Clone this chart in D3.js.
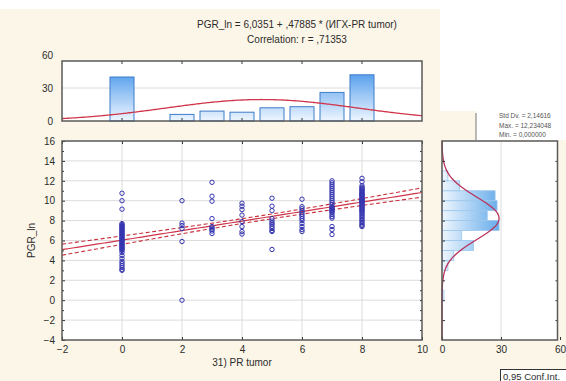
<!DOCTYPE html>
<html>
<head>
<meta charset="utf-8">
<script src="https://cdn.jsdelivr.net/npm/d3@7"></script>
<style>
  html, body { margin: 0; padding: 0; background: #fff; }
  svg { display: block; font-family: "Liberation Sans", Arial, sans-serif; }
</style>
</head>
<body>
<div id="chart"></div>
<script>
// PR tumor scores (x) and PGR_ln values, column by column
const prScores = [0, 2, 3, 4, 5, 6, 7, 8];
const pgrAt0 = [10.75, 10.0, 9.15, 7.7, 7.6, 7.5, 7.4, 7.3, 7.2, 7.1, 7.0, 6.9, 6.8, 6.7, 6.6, 6.5, 6.4,
  6.3, 6.2, 6.1, 6.0, 5.9, 5.8, 5.7, 5.6, 5.5, 5.4, 5.3, 5.2, 5.0, 4.8, 4.5, 4.2, 3.9, 3.7, 3.5, 3.3, 3.1, 3.0, 5.1];
const pgrAt2 = [10.0, 7.75, 7.5, 7.2, 5.9, 0.0];
const pgrAt3 = [11.85, 10.45, 9.95, 8.2, 7.4, 7.25, 7.1, 6.95, 6.7];
const pgrAt4 = [9.75, 9.45, 9.1, 8.55, 7.9, 7.4, 6.9, 6.65];
const pgrAt5 = [10.25, 9.45, 9.0, 8.2, 7.95, 7.75, 7.6, 7.4, 7.2, 7.0, 6.9, 5.1];
const pgrAt6 = [10.15, 9.4, 9.2, 9.0, 8.8, 8.6, 8.4, 8.2, 8.0, 7.7, 7.4, 7.1, 6.9];
const pgrAt7 = [12.0, 11.8, 11.6, 11.4, 11.2, 11.0, 10.8, 10.6, 10.4, 10.2, 10.0, 9.8, 9.6, 9.4, 9.3,
  9.2, 9.1, 9.0, 8.9, 8.8, 8.6, 8.4, 8.25, 7.4, 7.1, 6.6];
const pgrAt8 = [12.25, 11.9, 11.5, 11.35, 11.25, 11.15, 11.05, 10.95, 10.85, 10.75, 10.65, 10.55, 10.45,
  10.35, 10.25, 10.15, 10.05, 9.95, 9.85, 9.75, 9.65, 9.55, 9.45, 9.35, 9.25, 9.15, 9.05, 8.95, 8.85,
  8.7, 8.55, 8.4, 8.25, 8.1, 7.95, 7.8, 7.65, 7.5, 7.4, 9.9, 10.1, 10.6];
const pgrColumns = [pgrAt0, pgrAt2, pgrAt3, pgrAt4, pgrAt5, pgrAt6, pgrAt7, pgrAt8];

// marginal histogram of PR tumor (top)
const prCounts = [40, 6, 9, 8, 12, 13, 26, 42];
// marginal histogram of PGR_ln (right), bins of width 1
const pgrBinStarts = [0, 3, 4, 5, 6, 7, 8, 9, 10, 11, 12];
const pgrBinCounts = [1, 3, 6, 16, 10, 29, 23, 28, 27, 9, 3];

// regression / statistics shown on the chart
const intercept = 6.0351, slope = 0.47885, corrR = 0.71353;
const statLines = ['Std Dv. = 2,14616', 'Max. = 12,234048', 'Min. = 0,000000'];
const pgrSD = 2.14616;

const xTicks = [-2, 0, 2, 4, 6, 8, 10];
const yTicks = [-4, -2, 0, 2, 4, 6, 8, 10, 12, 14, 16];
const topTicks = [0, 30, 60];
const rightTicks = [0, 30, 60];

const W = 566, H = 381;
const cream = '#fcf6e8';
const frameCol = '#5a5a5a';
const gridCol = '#dcdcdc';
const textCol = '#2b2b2b';

const svg = d3.select('#chart').append('svg').attr('width', W).attr('height', H);
const defs = svg.append('defs');

// backgrounds
svg.append('rect').attr('width', W).attr('height', H).attr('fill', cream);
svg.append('rect').attr('width', W).attr('height', 9).attr('fill', '#fff');
svg.append('rect').attr('x', 440).attr('width', W - 440).attr('height', 111).attr('fill', '#fff');

const x = d3.scaleLinear().domain([-2, 10]).range([62, 422]);
const y = d3.scaleLinear().domain([-4, 16]).range([340, 141]);
const topY = d3.scaleLinear().domain([0, 60]).range([121, 55]);
const topFrame = { top: 61, bottom: 121 };
const histX = d3.scaleLinear().domain([0, 60]).range([442, 560]);
const rightFrame = { left: 442, right: 557.5 };

// data points
const points = [];
prScores.forEach((s, i) => pgrColumns[i].forEach(v => points.push({ x: s, y: v })));
const n = points.length;
const meanX = d3.mean(points, d => d.x);
const sdX = d3.deviation(points, d => d.x);
const meanY = d3.mean(points, d => d.y);
const sxx = d3.sum(points, d => (d.x - meanX) ** 2);
const residSD = pgrSD * Math.sqrt(1 - corrR * corrR) * Math.sqrt((n - 1) / (n - 2));
const tCrit = 1.975;

const normal = (v, m, s) => Math.exp(-0.5 * ((v - m) / s) ** 2) / (s * Math.sqrt(2 * Math.PI));

// ---------- title ----------
svg.append('text').attr('x', 297).attr('y', 28).attr('text-anchor', 'middle')
  .attr('font-size', 10).attr('fill', textCol)
  .text('PGR_ln = 6,0351 + ,47885 * (ИГХ-PR tumor)');
svg.append('text').attr('x', 297).attr('y', 43).attr('text-anchor', 'middle')
  .attr('font-size', 10).attr('fill', textCol)
  .text('Correlation: r = ,71353');

// ---------- top histogram ----------
const gTop = svg.append('g');
gTop.append('rect').attr('x', x(-2)).attr('y', topFrame.top)
  .attr('width', x(10) - x(-2)).attr('height', topFrame.bottom - topFrame.top).attr('fill', '#fff');
gTop.append('line').attr('x1', x(-2)).attr('x2', x(10)).attr('y1', topY(30)).attr('y2', topY(30))
  .attr('stroke', gridCol);

const gradTop = defs.append('linearGradient').attr('id', 'gradTop')
  .attr('gradientUnits', 'userSpaceOnUse').attr('x1', 0).attr('x2', 0)
  .attr('y1', topFrame.top).attr('y2', topFrame.bottom);
gradTop.append('stop').attr('offset', 0).attr('stop-color', '#2f88e8');
gradTop.append('stop').attr('offset', 1).attr('stop-color', '#eef6ff');

gTop.selectAll('rect.bar').data(prScores).enter().append('rect').attr('class', 'bar')
  .attr('x', d => x(d - 0.4))
  .attr('width', x(0.4) - x(-0.4))
  .attr('y', (d, i) => topY(prCounts[i]))
  .attr('height', (d, i) => topY(0) - topY(prCounts[i]))
  .attr('fill', 'url(#gradTop)')
  .attr('stroke', '#3d7cc9').attr('stroke-width', 1);

const topCurve = d3.range(-2, 10.001, 0.05).map(v => [v, n * normal(v, meanX, sdX)]);
gTop.append('path').datum(topCurve)
  .attr('d', d3.line().x(d => x(d[0])).y(d => topY(d[1])))
  .attr('fill', 'none').attr('stroke', '#d0354a').attr('stroke-width', 1.3);

gTop.append('g').attr('transform', 'translate(' + x(-2) + ',0)')
  .call(d3.axisLeft(topY).tickValues(topTicks).tickSize(0).tickPadding(9))
  .call(g => g.select('.domain').remove())
  .call(g => g.selectAll('text').attr('font-size', 10).attr('fill', textCol).attr('font-family', null));
// small tick marks at the PR scores on top and bottom edges
[topFrame.top, topFrame.bottom].forEach((yy, k) => {
  gTop.selectAll(null).data(xTicks.slice(1, -1)).enter().append('line')
    .attr('x1', d => x(d)).attr('x2', d => x(d))
    .attr('y1', yy).attr('y2', yy + (k === 0 ? 3 : -3))
    .attr('stroke', '#333');
});
gTop.append('rect').attr('x', x(-2)).attr('y', topFrame.top)
  .attr('width', x(10) - x(-2)).attr('height', topFrame.bottom - topFrame.top)
  .attr('fill', 'none').attr('stroke', frameCol).attr('stroke-width', 1.5);

// ---------- main scatter ----------
const gMain = svg.append('g');
gMain.append('rect').attr('x', x(-2)).attr('y', y(16))
  .attr('width', x(10) - x(-2)).attr('height', y(-4) - y(16)).attr('fill', '#fff');
gMain.selectAll('line.vgrid').data(xTicks.slice(1, -1)).enter().append('line')
  .attr('x1', d => x(d)).attr('x2', d => x(d)).attr('y1', y(16)).attr('y2', y(-4))
  .attr('stroke', gridCol);
gMain.selectAll('line.hgrid').data(yTicks.slice(1, -1)).enter().append('line')
  .attr('y1', d => y(d)).attr('y2', d => y(d)).attr('x1', x(-2)).attr('x2', x(10))
  .attr('stroke', gridCol);

// confidence band and regression line
const fitXs = d3.range(-2, 10.001, 0.1);
const band = fitXs.map(v => {
  const yh = intercept + slope * v;
  const hw = tCrit * residSD * Math.sqrt(1 / n + (v - meanX) ** 2 / sxx);
  return { x: v, yh, lo: yh - hw, hi: yh + hw };
});
const lineOf = key => d3.line().x(d => x(d.x)).y(d => y(d[key]));
gMain.append('path').datum(band).attr('d', lineOf('hi'))
  .attr('fill', 'none').attr('stroke', '#c8303c').attr('stroke-width', 1.1).attr('stroke-dasharray', '4,2.5');
gMain.append('path').datum(band).attr('d', lineOf('lo'))
  .attr('fill', 'none').attr('stroke', '#c8303c').attr('stroke-width', 1.1).attr('stroke-dasharray', '4,2.5');
gMain.append('path').datum(band).attr('d', lineOf('yh'))
  .attr('fill', 'none').attr('stroke', '#d0354a').attr('stroke-width', 1.2);

gMain.selectAll('circle').data(points).enter().append('circle')
  .attr('cx', d => x(d.x)).attr('cy', d => y(d.y)).attr('r', 2.2)
  .attr('fill', 'none').attr('stroke', '#3535b0').attr('stroke-width', 1);

// axes
const styleAxis = g => {
  g.select('.domain').remove();
  g.selectAll('line').attr('stroke', '#333');
  g.selectAll('text').attr('font-size', 10).attr('fill', textCol).attr('font-family', null);
};
gMain.append('g').attr('transform', 'translate(0,' + y(-4) + ')')
  .call(d3.axisBottom(x).tickValues(xTicks).tickSize(-3).tickPadding(6)).call(styleAxis);
gMain.append('g').attr('transform', 'translate(0,' + y(16) + ')')
  .call(d3.axisTop(x).tickValues(xTicks).tickSize(-3).tickFormat('')).call(styleAxis);
gMain.append('g').attr('transform', 'translate(' + x(-2) + ',0)')
  .call(d3.axisLeft(y).tickValues(yTicks).tickSize(-3).tickPadding(7)).call(styleAxis);
gMain.append('g').attr('transform', 'translate(' + x(-2) + ',0)')
  .call(d3.axisLeft(y).tickValues(d3.range(-3, 16, 2)).tickSize(-2).tickFormat('')).call(styleAxis);
gMain.append('g').attr('transform', 'translate(' + x(10) + ',0)')
  .call(d3.axisRight(y).tickValues(d3.range(-3, 16, 1)).tickSize(-2).tickFormat('')).call(styleAxis);
gMain.append('rect').attr('x', x(-2)).attr('y', y(16))
  .attr('width', x(10) - x(-2)).attr('height', y(-4) - y(16))
  .attr('fill', 'none').attr('stroke', frameCol).attr('stroke-width', 1.5);

svg.append('text').attr('x', (x(-2) + x(10)) / 2).attr('y', 366).attr('text-anchor', 'middle')
  .attr('font-size', 10).attr('fill', textCol).text('31) PR tumor');
svg.append('text').attr('transform', 'translate(35,' + (y(16) + y(-4)) / 2 + ') rotate(-90)')
  .attr('text-anchor', 'middle').attr('font-size', 10).attr('fill', textCol).text('PGR_ln');

// ---------- right histogram ----------
const gRight = svg.append('g');
gRight.append('rect').attr('x', rightFrame.left).attr('y', y(16))
  .attr('width', rightFrame.right - rightFrame.left).attr('height', y(-4) - y(16)).attr('fill', '#fff');
gRight.append('line').attr('x1', histX(30)).attr('x2', histX(30)).attr('y1', y(16)).attr('y2', y(-4))
  .attr('stroke', gridCol);

const gradRight = defs.append('linearGradient').attr('id', 'gradRight')
  .attr('gradientUnits', 'userSpaceOnUse').attr('y1', 0).attr('y2', 0)
  .attr('x1', histX(0)).attr('x2', histX(30));
gradRight.append('stop').attr('offset', 0).attr('stop-color', '#eef6fe');
gradRight.append('stop').attr('offset', 1).attr('stop-color', '#63aaea');

gRight.selectAll('rect.bar').data(pgrBinStarts).enter().append('rect').attr('class', 'bar')
  .attr('x', histX(0))
  .attr('y', d => y(d + 1))
  .attr('width', (d, i) => histX(pgrBinCounts[i]) - histX(0))
  .attr('height', d => y(d) - y(d + 1))
  .attr('fill', 'url(#gradRight)')
  .attr('stroke', '#9cc6ec').attr('stroke-width', 0.8);

const rightCurve = d3.range(-4, 16.001, 0.05).map(v => [v, n * normal(v, meanY, pgrSD)]);
gRight.append('path').datum(rightCurve)
  .attr('d', d3.line().x(d => histX(d[1])).y(d => y(d[0])))
  .attr('fill', 'none').attr('stroke', '#b8325a').attr('stroke-width', 1.3);

gRight.append('g').attr('transform', 'translate(' + rightFrame.left + ',0)')
  .call(d3.axisRight(y).tickValues(d3.range(-2, 16, 2)).tickSize(3).tickFormat('')).call(styleAxis);
gRight.append('g').attr('transform', 'translate(' + rightFrame.right + ',0)')
  .call(d3.axisLeft(y).tickValues(d3.range(-2, 16, 2)).tickSize(2).tickFormat('')).call(styleAxis);
gRight.append('g').attr('transform', 'translate(0,' + y(-4) + ')')
  .call(d3.axisBottom(histX).tickValues(rightTicks).tickSize(-3).tickPadding(6)).call(styleAxis);
gRight.append('rect').attr('x', rightFrame.left).attr('y', y(16))
  .attr('width', rightFrame.right - rightFrame.left).attr('height', y(-4) - y(16))
  .attr('fill', 'none').attr('stroke', frameCol).attr('stroke-width', 1.5);

// ---------- stats box ----------
svg.append('rect').attr('x', 476).attr('y', 111).attr('width', W - 476).attr('height', 29).attr('fill', '#fff');
svg.append('line').attr('x1', 476).attr('x2', 476).attr('y1', 113).attr('y2', 140)
  .attr('stroke', '#777');
svg.selectAll('text.stat').data(statLines).enter().append('text').attr('class', 'stat')
  .attr('x', 499).attr('y', (d, i) => 118 + i * 9.5)
  .attr('font-size', 6.5).attr('fill', '#555').text(d => d);

// ---------- confidence legend box ----------
svg.append('rect').attr('x', 500.5).attr('y', 369.5).attr('width', 80).attr('height', 16)
  .attr('fill', '#fff').attr('stroke', '#333').attr('stroke-width', 1);
svg.append('text').attr('x', 503).attr('y', 380).attr('font-size', 9.5).attr('fill', textCol)
  .text('0,95 Conf.Int.');
</script>
</body>
</html>
